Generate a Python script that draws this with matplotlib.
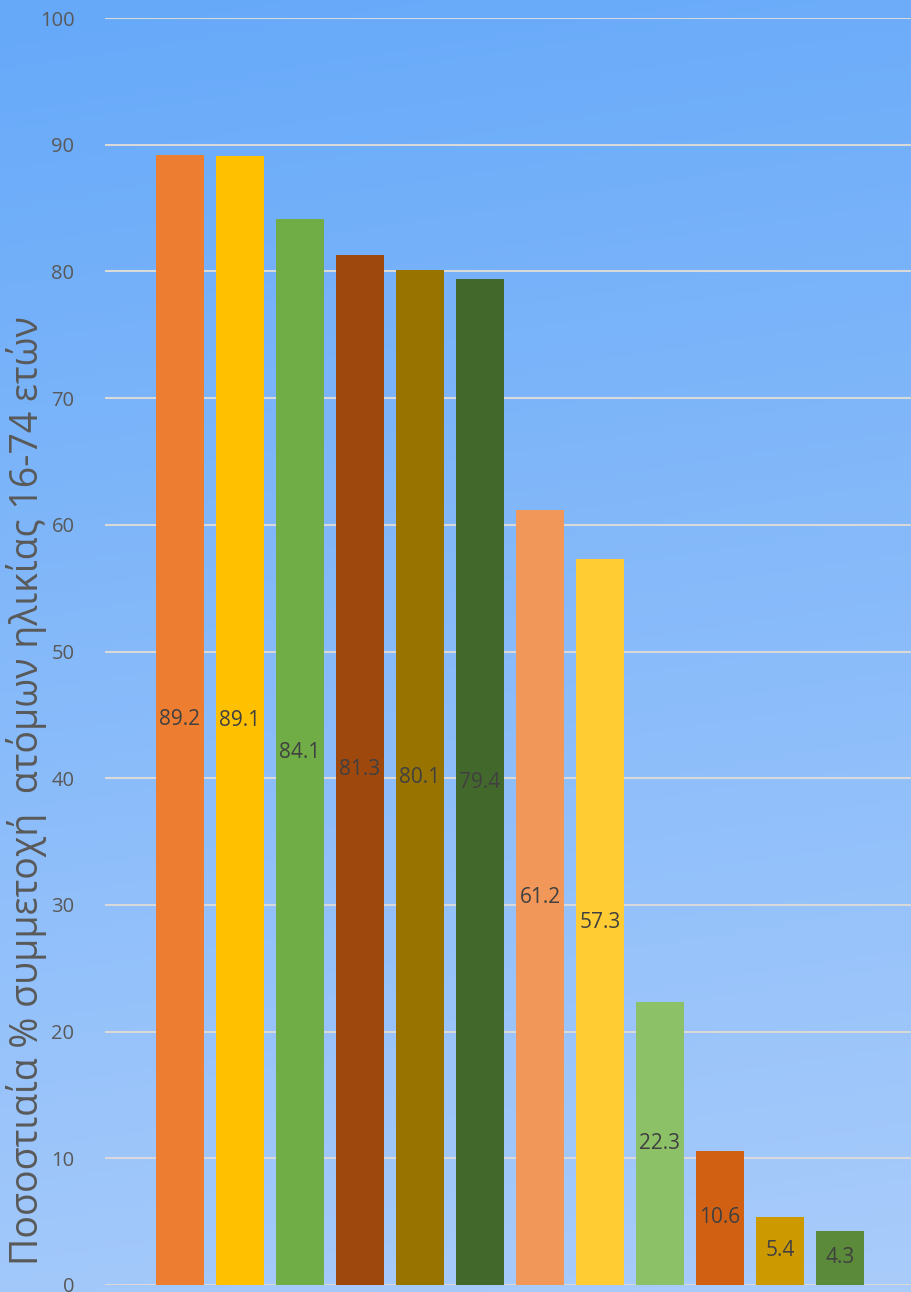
import matplotlib
matplotlib.use("Agg")
import matplotlib.pyplot as plt
import numpy as np
from matplotlib.colors import LinearSegmentedColormap

values = [89.2, 89.1, 84.1, 81.3, 80.1, 79.4, 61.2, 57.3, 22.3, 10.6, 5.4, 4.3]
labels = ["89.2", "89.1", "84.1", "81.3", "80.1", "79.4", "61.2", "57.3", "22.3", "10.6", "5.4", "4.3"]
colors = ["#ED7D31", "#FFC000", "#70AD47", "#9E480E", "#997300", "#43682B",
          "#F1975A", "#FFCD33", "#8CC168", "#D26012", "#CC9A00", "#5A8A3A"]
yticks = [0, 10, 20, 30, 40, 50, 60, 70, 80, 90, 100]
ylabel = "Ποσοστιαία % συμμετοχή  ατόμων ηλικίας 16-74 ετών"

plt.rcParams['font.family'] = ['Open Sans', 'DejaVu Sans']

W, H = 912, 1292
fig = plt.figure(figsize=(W / 100, H / 100), dpi=100)

# gradient background
bg = fig.add_axes([0, 0, 1, 1], zorder=-10)
cmap = LinearSegmentedColormap.from_list("bg", ["#66a9f9", "#a9ccfb"])
yy, xx = np.mgrid[0:1:300j, 0:1:300j]
grad = yy * 0.9 + xx * 0.1
bg.imshow(grad, cmap=cmap, aspect="auto", extent=[0, 1, 1, 0], origin="upper")
bg.set_axis_off()

ax = fig.add_axes([105 / W, (H - 1285) / H, (W - 105) / W, (1285 - 18) / H])
ax.patch.set_alpha(0)
x = np.arange(len(values))
bars = ax.bar(x, values, width=0.8, color=colors, zorder=3)
for xi, v, lab in zip(x, values, labels):
    ax.text(xi, v / 2, lab, ha="center", va="center", fontsize=15, color="#404040", zorder=4)

ax.set_ylim(0, 100)
ax.set_xlim(-1.25, 12.2)
ax.set_yticks(yticks)
ax.set_yticklabels([str(t) for t in yticks], fontsize=14.5, color="#595959")
ax.set_xticks([])
ax.grid(axis="y", color="#d9d9d9", linewidth=1.5, zorder=0)
ax.tick_params(axis="y", length=0, pad=22)
for s in ax.spines.values():
    s.set_visible(False)

fig.text(27 / W, 1 - 791 / H, ylabel, rotation=90, ha="center", va="center",
         fontsize=27, color="#595959")

fig.savefig("out.png", dpi=100)
